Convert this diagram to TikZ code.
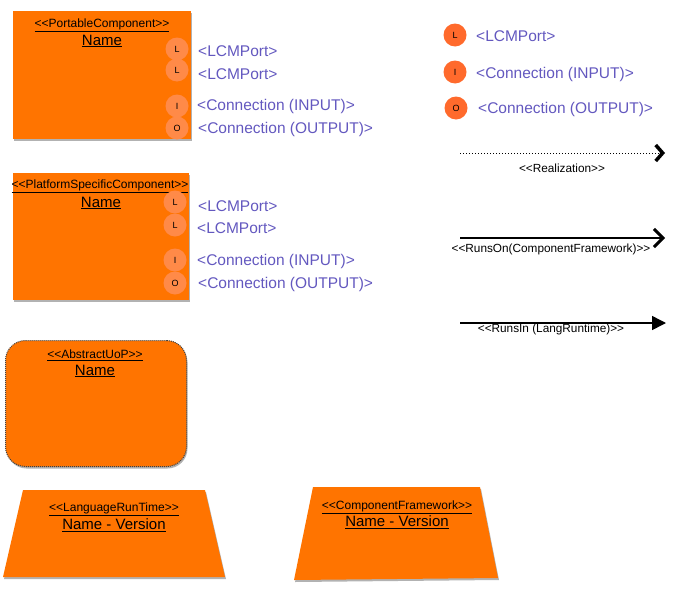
\documentclass[tikz,border=0pt]{standalone}
\usepackage{fontspec}
\setmainfont{Liberation Sans}
\usetikzlibrary{arrows.meta,shadows}
\definecolor{boxorange}{HTML}{FF7400}
\definecolor{portorange}{HTML}{FF8A48}
\definecolor{legorange}{HTML}{FF6A2C}
\definecolor{lblblue}{HTML}{6358BF}
\newcommand\stereo[1]{<\kern0pt<#1>\kern0pt>}
\begin{document}
\begin{tikzpicture}[x=1pt,y=-1pt,
  orangebox/.style={fill=boxorange, draw=none, inner sep=0pt, anchor=north west,
    drop shadow={shadow xshift=1pt, shadow yshift=-2pt, opacity=0.3, fill=black}},
  sttext/.style={font=\fontsize{12}{13}\selectfont, inner sep=0pt},
  nametext/.style={font=\fontsize{15}{16}\selectfont, inner sep=0pt},
  port/.style={circle, fill=portorange, minimum size=23pt, inner sep=0pt, font=\fontsize{9}{9}\selectfont},
  legport/.style={circle, fill=legorange, minimum size=23pt, inner sep=0pt, font=\fontsize{9}{9}\selectfont},
  lbl/.style={text=lblblue, anchor=west, inner sep=0pt, font=\fontsize{15.5}{17}\selectfont},
  arrlbl/.style={inner sep=0pt, font=\fontsize{11.8}{13}\selectfont}
]
\useasboundingbox (0,0) rectangle (679,589);

% Portable component
\node[orangebox, minimum width=178pt, minimum height=128pt] (pc) at (13,11) {};
\node[sttext] (pct) at (102,25) {\underline{\stereo{PortableComponent}}};
\node[nametext] (pcn) at (102,41) {\underline{Name}};
\node[port] (pc1) at (177,49) {L};
\node[port] (pc2) at (177,70) {L};
\node[port] (pc3) at (177,106) {I};
\node[port] (pc4) at (177,128) {O};
\node[lbl] (pcl1) at (198,51) {<LCMPort>};
\node[lbl] (pcl2) at (198,74) {<LCMPort>};
\node[lbl] (pcl3) at (197,106) {<Connection (INPUT)>};
\node[lbl] (pcl4) at (198,129) {<Connection (OUTPUT)>};

% Platform specific component
\node[orangebox, minimum width=176pt, minimum height=127pt] (ps) at (13,173) {};
\node[sttext] (pst) at (100,186) {\underline{\stereo{PlatformSpecificComponent}}};
\node[nametext] (psn) at (101,203) {\underline{Name}};
\node[port] (ps1) at (175,202) {L};
\node[port] (ps2) at (175,225) {L};
\node[port] (ps3) at (175,260) {I};
\node[port] (ps4) at (175,283) {O};
\node[lbl] (psl1) at (198,206) {<LCMPort>};
\node[lbl] (psl2) at (197,228) {<LCMPort>};
\node[lbl] (psl3) at (197,261) {<Connection (INPUT)>};
\node[lbl] (psl4) at (198,284) {<Connection (OUTPUT)>};

% Abstract UoP
\node[orangebox, rounded corners=20pt, draw=black!75, densely dotted, line width=1pt,
  minimum width=181pt, minimum height=126pt] (uop) at (5,340) {};
\node[sttext] (uopt) at (95,355) {\underline{\stereo{AbstractUoP}}};
\node[nametext] (uopn) at (95,371) {\underline{Name}};

% Language runtime
\fill[boxorange, drop shadow={shadow xshift=1pt, shadow yshift=-2pt, opacity=0.3, fill=black}]
  (23,490) -- (205,490) -- (225,577) -- (3,577) -- cycle;
\node[sttext] (lrt) at (114,509) {\underline{\stereo{LanguageRunTime}}};
\node[nametext] (lrn) at (114,525) {\underline{Name - Version}};

% Component framework
\fill[boxorange, drop shadow={shadow xshift=1pt, shadow yshift=-2pt, opacity=0.3, fill=black}]
  (313,487) -- (480,487) -- (498,578) -- (294,580) -- cycle;
\node[sttext] (cft) at (397,507) {\underline{\stereo{ComponentFramework}}};
\node[nametext] (cfn) at (397,522) {\underline{Name - Version}};

% Legend
\node[legport] (lg1) at (455,35) {L};
\node[legport] (lg2) at (455,72) {I};
\node[legport] (lg3) at (456,108) {O};
\node[lbl] (lgl1) at (476,36) {<LCMPort>};
\node[lbl] (lgl2) at (476,74) {<Connection (INPUT)>};
\node[lbl] (lgl3) at (478,109) {<Connection (OUTPUT)>};

\coordinate (ra) at (460,153);
\coordinate (rb) at (665,153);
\draw[dotted, line width=1pt, -{Straight Barb[length=7pt,width=16pt,line width=3.5pt 0]}] (ra) -- (rb);
\node[arrlbl] (ral) at (562,168) {\stereo{Realization}};

\coordinate (oa) at (460,238);
\coordinate (ob) at (665,238);
\draw[line width=2pt, -{Straight Barb[length=9pt,width=18pt,line width=3pt 0]}] (oa) -- (ob);
\node[arrlbl] (ol) at (551,249) {\stereo{RunsOn(ComponentFramework)}};

\coordinate (ia) at (460,323);
\coordinate (ib) at (666,323);
\draw[line width=1.5pt, -{Triangle[length=14pt,width=14pt]}] (ia) -- (ib);
\node[arrlbl] (il) at (551,329) {\stereo{RunsIn (LangRuntime)}};
\end{tikzpicture}
\end{document}
